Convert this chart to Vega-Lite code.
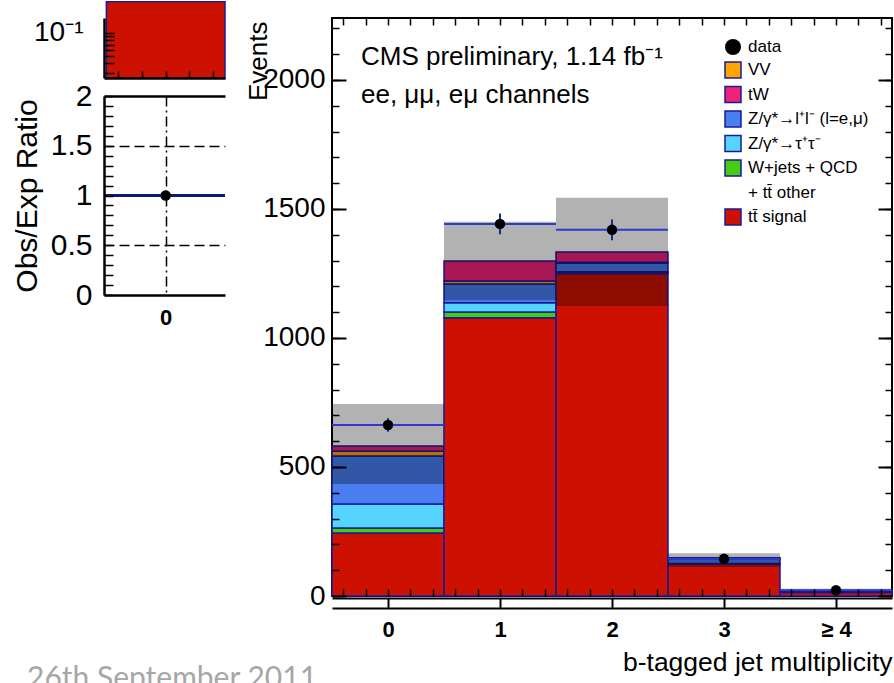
{
  "$schema": "https://vega.github.io/schema/vega-lite/v6.json",
  "background": "white",
  "padding": {"left": 12, "top": 0, "right": 0, "bottom": 0},
  "config": {
    "view": {"stroke": null},
    "font": "Liberation Sans",
    "axis": {"labelFont": "Liberation Sans", "titleFont": "Liberation Sans", "labelColor": "black", "titleColor": "black", "domainColor": "black", "tickColor": "black", "titleFontWeight": "normal", "labelOverlap": false, "labelFlush": false, "grid": false},
    "legend": {"labelFont": "Liberation Sans", "labelColor": "black"}
  },
  "datasets": {
    "stack": [
      {"b": 0, "process": "tt̄ signal", "n": 244},
      {"b": 0, "process": "W+jets + QCD", "n": 20},
      {"b": 0, "process": "Z/γ*→τ⁺τ⁻", "n": 93},
      {"b": 0, "process": "Z/γ*→l⁺l⁻ (l=e,μ)", "n": 186},
      {"b": 0, "process": "VV", "n": 18},
      {"b": 0, "process": "tW", "n": 20},
      {"b": 1, "process": "tt̄ signal", "n": 1078},
      {"b": 1, "process": "W+jets + QCD", "n": 23},
      {"b": 1, "process": "Z/γ*→τ⁺τ⁻", "n": 35},
      {"b": 1, "process": "Z/γ*→l⁺l⁻ (l=e,μ)", "n": 73},
      {"b": 1, "process": "VV", "n": 12},
      {"b": 1, "process": "tW", "n": 77},
      {"b": 2, "process": "tt̄ signal", "n": 1250},
      {"b": 2, "process": "W+jets + QCD", "n": 3},
      {"b": 2, "process": "Z/γ*→τ⁺τ⁻", "n": 4},
      {"b": 2, "process": "Z/γ*→l⁺l⁻ (l=e,μ)", "n": 33},
      {"b": 2, "process": "VV", "n": 3},
      {"b": 2, "process": "tW", "n": 40},
      {"b": 3, "process": "tt̄ signal", "n": 124},
      {"b": 3, "process": "W+jets + QCD", "n": 1},
      {"b": 3, "process": "Z/γ*→τ⁺τ⁻", "n": 1},
      {"b": 3, "process": "Z/γ*→l⁺l⁻ (l=e,μ)", "n": 19},
      {"b": 3, "process": "VV", "n": 1},
      {"b": 3, "process": "tW", "n": 2},
      {"b": 4, "process": "tt̄ signal", "n": 14},
      {"b": 4, "process": "W+jets + QCD", "n": 1},
      {"b": 4, "process": "Z/γ*→τ⁺τ⁻", "n": 1},
      {"b": 4, "process": "Z/γ*→l⁺l⁻ (l=e,μ)", "n": 3},
      {"b": 4, "process": "VV", "n": 0.5},
      {"b": 4, "process": "tW", "n": 2}
    ],
    "bins": [
      {"b": 0, "data": 663, "derr": 26, "unc_lo": 434, "unc_hi": 744},
      {"b": 1, "data": 1442, "derr": 40, "unc_lo": 1146, "unc_hi": 1450},
      {"b": 2, "data": 1419, "derr": 40, "unc_lo": 1124, "unc_hi": 1543},
      {"b": 3, "data": 144, "derr": 12, "unc_lo": 112, "unc_hi": 166},
      {"b": 4, "data": 22, "derr": 5, "unc_lo": 14, "unc_hi": 28}
    ]
  },
  "hconcat": [
    {
      "vconcat": [
        {
          "width": 121,
          "height": 60,
          "data": {"values": [{"lo": -0.5, "hi": 0.5, "v": 0.25}]},
          "mark": {"type": "rect", "fill": "#cc1100", "stroke": "#1a1a9c", "strokeWidth": 1.5, "clip": false},
          "encoding": {
            "x": {"field": "lo", "type": "quantitative", "scale": {"domain": [-0.52, 0.5], "nice": false, "zero": false},
              "axis": {"orient": "bottom", "values": [-0.4, -0.2, 0, 0.2, 0.4], "tickSize": -7, "tickWidth": 1.5, "labels": false, "domain": true, "domainWidth": 2.5, "title": null, "zindex": 1}},
            "x2": {"field": "hi"},
            "y": {"field": "v", "type": "quantitative", "scale": {"type": "log", "domain": [0.026, 0.154], "nice": false},
              "axis": {"orient": "left", "values": [0.03, 0.04, 0.05, 0.06, 0.07, 0.08, 0.09, 0.1], "tickSize": -10, "tickWidth": 1.5, "labelExpr": "datum.value == 0.1 ? '10⁻¹' : ''", "labelOverlap": false, "labelFontSize": 28, "labelPadding": 31, "domain": true, "domainWidth": 2.5, "title": null, "zindex": 1}},
            "y2": {"datum": 0.026}
          }
        },
        {
          "width": 121,
          "height": 199,
          "data": {"values": [{"b": 0, "ratio": 1.0}]},
          "title": {"text": "26th September 2011", "orient": "bottom", "anchor": "start", "frame": "group", "dx": -77, "offset": 336, "fontSize": 30, "font": "Lato", "fontWeight": "normal", "color": "#a6a6a6"},
          "layer": [
            {
              "mark": {"type": "point", "opacity": 0},
              "encoding": {
                "x": {"field": "b", "type": "quantitative", "scale": {"domain": [-0.52, 0.5], "nice": false, "zero": false},
                  "axis": {"orient": "top", "domain": true, "domainWidth": 2.5, "ticks": false, "labels": false, "title": null}},
                "y": {"field": "ratio", "type": "quantitative", "scale": {"domain": [0, 2], "nice": false},
                  "axis": {"orient": "left", "values": [0.5, 1.5], "grid": true, "gridDash": [10, 5], "gridColor": "black", "gridWidth": 1.5, "gridOpacity": 1, "ticks": false, "labels": false, "domain": false, "title": null, "zindex": 0}}
              }
            },
            {
              "mark": {"type": "rule", "color": "#0b1a7a", "strokeWidth": 3},
              "encoding": {"y": {"datum": 1, "type": "quantitative", "axis": null}}
            },
            {
              "mark": {"type": "point", "filled": true, "color": "black", "size": 110, "opacity": 1},
              "encoding": {
                "x": {"field": "b", "type": "quantitative",
                  "axis": {"orient": "bottom", "values": [0], "grid": true, "gridDash": [10, 4, 2, 4], "gridColor": "black", "gridWidth": 1.5, "gridOpacity": 1, "ticks": false, "labelFontSize": 22, "labelFontWeight": "bold", "labelPadding": 12, "labelOverlap": false, "domain": true, "domainWidth": 2.5, "title": null, "zindex": 0}},
                "y": {"field": "ratio", "type": "quantitative",
                  "axis": {"orient": "left", "values": [0, 0.1, 0.2, 0.3, 0.4, 0.5, 0.6, 0.7, 0.8, 0.9, 1, 1.1, 1.2, 1.3, 1.4, 1.5, 1.6, 1.7, 1.8, 1.9, 2], "format": "~g", "labelExpr": "indexof([0, 0.5, 1, 1.5, 2], datum.value) >= 0 ? datum.label : ''", "labelOverlap": false, "tickSize": -9, "tickWidth": 1.5, "labelFontSize": 30, "labelPadding": 21, "domain": true, "domainWidth": 2.5, "title": "Obs/Exp Ratio", "titleFontSize": 30, "titlePadding": 8, "zindex": 1}}
              }
            }
          ],
          "resolve": {"axis": {"x": "independent", "y": "independent"}}
        }
      ],
      "spacing": 18,
      "bounds": "flush"
    },
    {
      "width": 560,
      "height": 578,
      "view": {"stroke": "black", "strokeWidth": 2},
      "title": {"text": "CMS preliminary, 1.14 fb⁻¹", "subtitle": "ee, μμ, eμ channels", "orient": "top", "anchor": "start", "frame": "group", "dx": 29, "offset": -91, "fontSize": 26, "subtitleFontSize": 26, "fontWeight": "normal", "font": "Liberation Sans", "subtitleFont": "Liberation Sans", "color": "black", "subtitleColor": "black", "subtitlePadding": 12},
      "layer": [
        {
          "data": {"name": "stack"},
          "transform": [
            {"calculate": "indexof(['tt̄ signal', 'W+jets + QCD', 'Z/γ*→τ⁺τ⁻', 'Z/γ*→l⁺l⁻ (l=e,μ)', 'VV', 'tW'], datum.process)", "as": "stack_order"}
          ],
          "mark": {"type": "bar", "strokeWidth": 1.5},
          "encoding": {
            "x": {"field": "b", "type": "ordinal", "scale": {"paddingInner": 0, "paddingOuter": 0}, "axis": null},
            "y": {"field": "n", "type": "quantitative", "stack": "zero", "scale": {"domain": [0, 2240], "nice": false},
              "axis": {"orient": "left", "values": [0, 500, 1000, 1500, 2000], "format": "d", "labelOverlap": false, "ticks": false, "domain": false, "labelFontSize": 28, "labelPadding": 7, "title": "Events", "titleFontSize": 26, "titleX": -66, "titleY": 3, "titleAlign": "right", "titleAngle": 270, "titleBaseline": "alphabetic"}},
            "order": {"field": "stack_order", "type": "quantitative", "sort": "ascending"},
            "color": {"field": "process", "type": "nominal",
              "scale": {"domain": ["tt̄ signal", "W+jets + QCD", "Z/γ*→τ⁺τ⁻", "Z/γ*→l⁺l⁻ (l=e,μ)", "VV", "tW", "+ tt̄ other"],
                "range": ["#cc1100", "#44cc11", "#55d4ff", "#4a7df0", "#ffa500", "#ee2277", "rgba(0,0,0,0)"]},
              "legend": {"orient": "none", "legendX": 620, "legendY": 43, "title": null, "padding": 0,
                "values": ["VV", "tW", "Z/γ*→l⁺l⁻ (l=e,μ)", "Z/γ*→τ⁺τ⁻", "W+jets + QCD", "+ tt̄ other", "tt̄ signal"],
                "symbolType": "square", "symbolSize": 256, "symbolStrokeWidth": 1.5, "labelFontSize": 17, "labelOffset": 6, "rowPadding": 2.5}},
            "stroke": {"field": "process", "type": "nominal",
              "scale": {"domain": ["tt̄ signal", "W+jets + QCD", "Z/γ*→τ⁺τ⁻", "Z/γ*→l⁺l⁻ (l=e,μ)", "VV", "tW", "+ tt̄ other"],
                "range": ["#1a1a9c", "#1a1a9c", "#1a1a9c", "#1a1a9c", "#1a1a9c", "#1a1a9c", "rgba(0,0,0,0)"]},
              "legend": {"orient": "none", "legendX": 620, "legendY": 43, "title": null, "padding": 0,
                "values": ["VV", "tW", "Z/γ*→l⁺l⁻ (l=e,μ)", "Z/γ*→τ⁺τ⁻", "W+jets + QCD", "+ tt̄ other", "tt̄ signal"],
                "symbolType": "square", "symbolSize": 256, "symbolStrokeWidth": 1.5, "labelFontSize": 17, "labelOffset": 6, "rowPadding": 2.5}}
          }
        },
        {
          "data": {"name": "bins"},
          "mark": {"type": "bar", "fill": "black", "fillOpacity": 0.3, "strokeWidth": 0},
          "encoding": {
            "x": {"field": "b", "type": "ordinal", "scale": {"paddingInner": 0, "paddingOuter": 0}, "axis": null},
            "y": {"field": "unc_lo", "type": "quantitative", "scale": {"domain": [0, 2240], "nice": false},
              "axis": {"orient": "left", "values": [0, 500, 1000, 1500, 2000], "tickSize": -14, "tickWidth": 2, "labels": false, "domain": false, "title": null, "zindex": 1}},
            "y2": {"field": "unc_hi"}
          }
        },
        {
          "data": {"name": "bins"},
          "mark": {"type": "bar", "fillOpacity": 0, "stroke": "#2b3bd6", "strokeWidth": 2},
          "encoding": {
            "x": {"field": "b", "type": "ordinal", "scale": {"paddingInner": 0, "paddingOuter": 0}, "axis": null},
            "y": {"field": "data", "type": "quantitative", "scale": {"domain": [0, 2240], "nice": false},
              "axis": {"orient": "left", "values": [0, 100, 200, 300, 400, 500, 600, 700, 800, 900, 1000, 1100, 1200, 1300, 1400, 1500, 1600, 1700, 1800, 1900, 2000, 2100, 2200], "tickSize": -7, "tickWidth": 1.5, "labels": false, "domain": false, "title": null, "zindex": 1}},
            "y2": {"field": "data"}
          }
        },
        {
          "data": {"name": "bins"},
          "layer": [
            {
              "mark": {"type": "errorbar", "color": "#1c2a9c", "thickness": 2},
              "encoding": {
                "x": {"field": "b", "type": "quantitative", "scale": {"domain": [-0.5, 4.5], "nice": false, "zero": false},
                  "axis": {"orient": "bottom", "values": [-0.4, -0.2, 0, 0.2, 0.4, 0.6, 0.8, 1, 1.2, 1.4, 1.6, 1.8, 2, 2.2, 2.4, 2.6, 2.8, 3, 3.2, 3.4, 3.6, 3.8, 4, 4.2, 4.4], "tickSize": -7, "tickWidth": 1.5, "labels": false, "domain": false, "title": null, "zindex": 1}},
                "y": {"field": "data", "type": "quantitative", "scale": {"domain": [0, 2240], "nice": false},
                  "axis": {"orient": "right", "values": [0, 100, 200, 300, 400, 500, 600, 700, 800, 900, 1000, 1100, 1200, 1300, 1400, 1500, 1600, 1700, 1800, 1900, 2000, 2100, 2200], "tickSize": -7, "tickWidth": 1.5, "labels": false, "domain": false, "title": null, "zindex": 1}},
                "yError": {"field": "derr"}
              }
            },
            {
              "mark": {"type": "point", "filled": true, "color": "black", "size": 110, "opacity": 1},
              "encoding": {
                "x": {"field": "b", "type": "quantitative",
                  "axis": {"orient": "bottom", "offset": 2, "values": [0, 1, 2, 3, 4], "format": "d", "labelOverlap": false, "labelExpr": "datum.value == 4 ? '≥ 4' : datum.label", "tickSize": 10, "tickWidth": 2, "domain": true, "domainWidth": 2, "labelFontSize": 22, "labelFontWeight": "bold", "labelPadding": 11, "title": "b-tagged jet multiplicity", "titleFontSize": 26.5, "titleAnchor": "end", "titlePadding": 9, "zindex": 1}},
                "y": {"field": "data", "type": "quantitative",
                  "axis": {"orient": "right", "values": [0, 500, 1000, 1500, 2000], "tickSize": -14, "tickWidth": 2, "labels": false, "domain": false, "title": null, "zindex": 1}},
                "shape": {"datum": "data", "type": "nominal", "scale": {"range": ["circle"]},
                  "legend": {"orient": "none", "legendX": 620, "legendY": 20, "title": null, "padding": 0, "symbolSize": 256, "labelFontSize": 17, "labelOffset": 6,
                    "encode": {"symbols": {"shape": {"value": "M-1,0L1,0M0.6,0A0.6,0.6,0,1,1,-0.6,0A0.6,0.6,0,1,1,0.6,0Z"}, "fill": {"value": "black"}, "stroke": {"value": "black"}, "strokeWidth": {"value": 2}}}}}
              }
            },
            {
              "mark": {"type": "point", "opacity": 0},
              "encoding": {
                "x": {"field": "b", "type": "quantitative",
                  "axis": {"orient": "top", "values": [-0.4, -0.2, 0, 0.2, 0.4, 0.6, 0.8, 1, 1.2, 1.4, 1.6, 1.8, 2, 2.2, 2.4, 2.6, 2.8, 3, 3.2, 3.4, 3.6, 3.8, 4, 4.2, 4.4], "tickSize": -7, "tickWidth": 1.5, "labels": false, "domain": false, "title": null, "zindex": 1}},
                "y": {"field": "data", "type": "quantitative", "axis": null}
              }
            },
            {
              "mark": {"type": "point", "opacity": 0},
              "encoding": {
                "x": {"field": "b", "type": "quantitative",
                  "axis": {"orient": "bottom", "offset": 12, "ticks": false, "labels": false, "domain": true, "domainWidth": 2, "title": null, "zindex": 1}},
                "y": {"field": "data", "type": "quantitative", "axis": null}
              }
            }
          ],
          "resolve": {"axis": {"x": "independent", "y": "independent"}}
        }
      ],
      "resolve": {"scale": {"x": "independent"}, "axis": {"x": "independent", "y": "independent"}}
    }
  ],
  "spacing": 228,
  "bounds": "flush"
}
